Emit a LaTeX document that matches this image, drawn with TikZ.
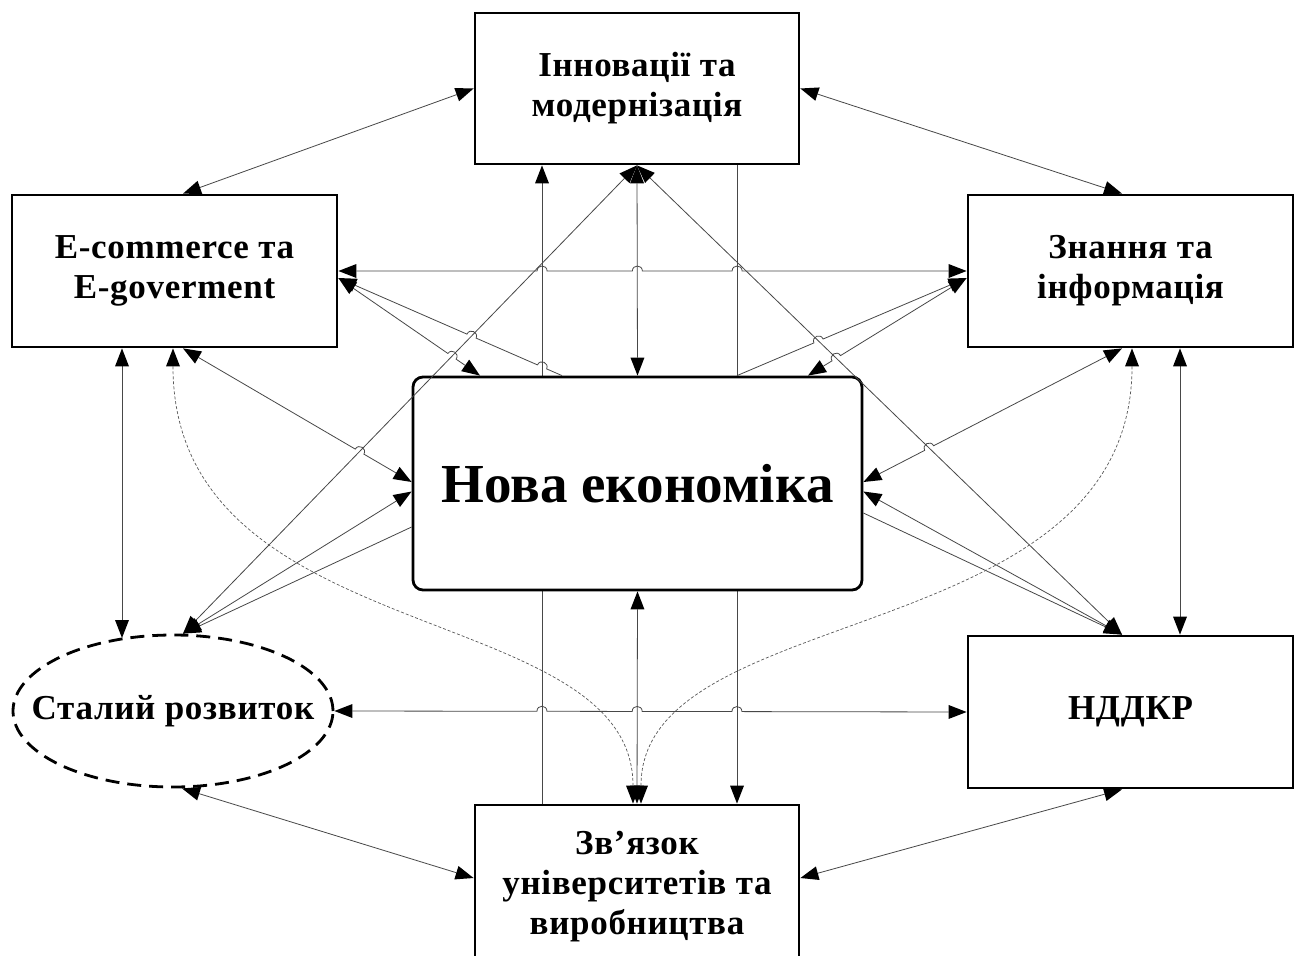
\documentclass[tikz,border=0pt]{standalone}
\usepackage{fontspec}
\setmainfont{Liberation Serif}
\newfontfamily\lbl[LetterSpace=2]{Liberation Serif}
\usetikzlibrary{arrows.meta,shapes.geometric,calc,backgrounds}
% hop helper: #1 name, #2 start, #3 end, #4 crossing line
\newcommand\mkhop[4]{%
  \coordinate (#1) at (intersection of #2--#3 and #4);
  \coordinate (#1a) at ($(#1)!5pt!(#2)$);
  \coordinate (#1b) at ($(#1)!5pt!(#3)$);
  \coordinate (#1c) at ($(#1a)!6.7pt!90:(#1)$);
  \coordinate (#1d) at ($(#1b)!6.7pt!-90:(#1)$);
}
\newcommand\hp[1]{-- (#1a) .. controls (#1c) and (#1d) .. (#1b)}
\begin{document}
\begin{tikzpicture}[x=1pt,y=-1pt,
  tipa/.tip={Triangle[length=18pt,width=14pt,color=black,line width=0pt]},
  box/.style={draw=black, line width=2.8pt, fill=white, inner sep=0pt, align=center,
    font=\lbl\bfseries\fontsize{35}{40}\selectfont},
  conn/.style={draw=black!72, line width=0.8pt},
  cbi/.style={conn,tipa-tipa},
  cfwd/.style={conn,-tipa},
  cback/.style={conn,tipa-},
  cdash/.style={conn,tipa-tipa,draw=black!65,line width=0.7pt,dash pattern=on 3pt off 2pt}]
\useasboundingbox (0,0) rectangle (1300,955);

% nodes
\node[box, minimum width=324pt, minimum height=151pt] (inn) at (637,88.5) {Інновації та\\модернізація};
\node[box, minimum width=325pt, minimum height=152pt] (ecom) at (174.5,271) {E-commerce та\\E-goverment};
\node[box, minimum width=325pt, minimum height=152pt] (know) at (1130.5,271) {Знання та\\інформація};
\node[box, rounded corners=10pt, minimum width=449pt, minimum height=213pt,
  font=\bfseries\fontsize{55}{60}\selectfont] (ne) at (637.5,483.5) {Нова економіка};
\node[box, ellipse, dash pattern=on 14pt off 8pt, minimum width=320pt, minimum height=152pt]
  (st) at (173,711) {\makebox[0pt]{Сталий розвиток}};
\node[box, minimum width=325pt, minimum height=152pt] (nd) at (1130.5,712) {НДДКР};
\node[box, minimum width=324pt, minimum height=164pt] (zv) at (637,887) {Зв’язок\\університетів та\\виробництва};

% attachment points
\coordinate (iW) at (inn.west);
\coordinate (iE) at (inn.east);
\coordinate (iS) at (inn.south);
\coordinate (iS1) at ([xshift=-95pt]inn.south);
\coordinate (iS2) at ([xshift=100pt]inn.south);
\coordinate (eN) at ([xshift=8.5pt]ecom.north);
\coordinate (eE) at (ecom.east);
\coordinate (eE2) at ([yshift=-7pt]ecom.east);
\coordinate (eS1) at ([xshift=-52.5pt]ecom.south);
\coordinate (eS2) at ([xshift=-1.5pt]ecom.south);
\coordinate (eS3) at ([xshift=8.5pt]ecom.south);
\coordinate (kN) at ([xshift=-8.5pt]know.north);
\coordinate (kW) at (know.west);
\coordinate (kW2) at ([yshift=-7pt]know.west);
\coordinate (kS1) at ([xshift=49.5pt]know.south);
\coordinate (kS2) at ([xshift=1.5pt]know.south);
\coordinate (kS3) at ([xshift=-8.5pt]know.south);
\coordinate (nN) at (ne.north);
\coordinate (nN1) at ([xshift=-157.5pt]ne.north);
\coordinate (nN2) at ([xshift=-75.5pt]ne.north);
\coordinate (nN3) at ([xshift=99.5pt]ne.north);
\coordinate (nN4) at ([xshift=170.5pt]ne.north);
\coordinate (nS) at (ne.south);
\coordinate (nW1) at ([yshift=1.5pt]ne.west);
\coordinate (nW2) at ([yshift=-8pt]ne.west);
\coordinate (nW3) at ([yshift=-43.5pt]ne.west);
\coordinate (nE1) at ([yshift=1.5pt]ne.east);
\coordinate (nE2) at ([yshift=-8pt]ne.east);
\coordinate (nE3) at ([yshift=-29.5pt]ne.east);
\coordinate (sN) at ([xshift=10pt]st.north);
\coordinate (sN1) at ($(st.center)+(-51,-73)$);
\coordinate (sE) at (st.east);
\coordinate (sS) at ([xshift=9pt]st.south);
\coordinate (dN) at ([xshift=-8.5pt]nd.north);
\coordinate (dN1) at ([xshift=49.5pt]nd.north);
\coordinate (dW) at (nd.west);
\coordinate (dS) at ([xshift=-8.5pt]nd.south);
\coordinate (zN) at (zv.north);
\coordinate (zN1) at ([xshift=-95pt]zv.north);
\coordinate (zN2) at ([xshift=100pt]zv.north);
\coordinate (zN3) at ([xshift=-4pt]zv.north);
\coordinate (zN4) at ([xshift=4pt]zv.north);
\coordinate (zW) at ([yshift=9pt]zv.west);
\coordinate (zE) at ([yshift=9pt]zv.east);

% background: white page and the two long verticals behind the centre box
\begin{scope}[on background layer]
  \fill[white] (0,0) rectangle (1300,955);
  \draw[cfwd] (zN1) -- (iS1);
  \draw[cfwd] (iS2) -- (zN2);
\end{scope}

% hops
\mkhop{hA}{eE}{kW}{zN1--iS1}
\mkhop{hB}{eE}{kW}{iS--nN}
\mkhop{hC}{eE}{kW}{iS2--zN2}
\mkhop{hD}{sE}{dW}{zN1--iS1}
\mkhop{hE}{sE}{dW}{nS--zN}
\mkhop{hF}{sE}{dW}{iS2--zN2}
\mkhop{hG}{eE2}{nN1}{sN--iS}
\mkhop{hH}{eE2}{nN2}{sN--iS}
\mkhop{hI}{eE2}{nN2}{zN1--iS1}
\mkhop{hJ}{nN4}{kW2}{iS--dN}
\mkhop{hK}{nN3}{kW2}{iS--dN}
\mkhop{hL}{eS3}{nW1}{sN--iS}
\mkhop{hM}{nE1}{kS3}{iS--dN}

% connectors
\draw[cbi] (iW) -- (eN);
\draw[cbi] (iE) -- (kN);
\draw[cbi] (eE) \hp{hA} \hp{hB} \hp{hC} -- (kW);
\draw[cbi] (iS) -- (nN);
\draw[cbi] (nS) -- (zN);
\draw[cbi] (sN) -- (iS);
\draw[cbi] (iS) -- (dN);
\draw[cbi] (eE2) \hp{hG} -- (nN1);
\draw[cback] (eE2) \hp{hH} \hp{hI} -- (nN2);
\draw[cbi] (nN4) \hp{hJ} -- (kW2);
\draw[cfwd] (nN3) \hp{hK} -- (kW2);
\draw[cbi] (eS3) \hp{hL} -- (nW1);
\draw[cbi] (sN) -- (nW2);
\draw[cback] (sN) -- (nW3);
\draw[cbi] (nE1) \hp{hM} -- (kS3);
\draw[cbi] (nE2) -- (dN);
\draw[cfwd] (nE3) -- (dN);
\draw[cbi] (eS1) -- (sN1);
\draw[cbi] (kS1) -- (dN1);
\draw[cbi] (sE) \hp{hD} \hp{hE} \hp{hF} -- (dW);
\draw[cbi] (sS) -- (zW);
\draw[cbi] (zE) -- (dS);
\draw[cdash] (eS2) .. controls ($(eS2)+(0,303)$) and ($(zN3)+(0,-205)$) .. (zN3);
\draw[cdash] (kS2) .. controls ($(kS2)+(0,303)$) and ($(zN4)+(0,-205)$) .. (zN4);
\end{tikzpicture}
\end{document}
